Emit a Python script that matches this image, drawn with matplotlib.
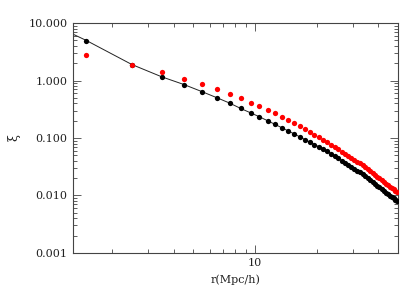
import numpy as np
import matplotlib
matplotlib.use("Agg")
import matplotlib.pyplot as plt
from matplotlib.ticker import LogLocator, NullFormatter, FixedLocator, FixedFormatter

# bin centres r (Mpc/h)
r = [1.5, 2.5, 3.5, 4.5, 5.5, 6.5, 7.5, 8.5, 9.5, 10.5,
     11.5, 12.5, 13.5, 14.5, 15.5, 16.5, 17.5, 18.5, 19.5, 20.5,
     21.5, 22.5, 23.5, 24.5, 25.5, 26.5, 27.5, 28.5, 29.5, 30.5,
     31.5, 32.5, 33.5, 34.5, 35.5, 36.5, 37.5, 38.5, 39.5, 40.5,
     41.5, 42.5, 43.5, 44.5, 45.5, 46.5, 47.5, 48.5, 49.5]

# black points
xi_black = [4.97, 1.88, 1.16, 0.85, 0.641, 0.503, 0.406, 0.327, 0.275, 0.234,
            0.199, 0.173, 0.150, 0.133, 0.118, 0.104, 0.0941, 0.0851, 0.0769, 0.0710,
            0.0641, 0.0591, 0.0535, 0.0483, 0.0446, 0.0403, 0.0372, 0.0343, 0.0316, 0.0292,
            0.0269, 0.0253, 0.0234, 0.0216, 0.0199, 0.0183, 0.0171, 0.0159, 0.0148, 0.0138,
            0.0129, 0.0120, 0.0112, 0.0105, 0.00984, 0.00929, 0.00885, 0.00844, 0.00801]

# red points
xi_red = [2.82, 1.89, 1.42, 1.08, 0.886, 0.724, 0.591, 0.503, 0.411, 0.364,
          0.310, 0.269, 0.234, 0.203, 0.180, 0.159, 0.144, 0.127, 0.115, 0.104,
          0.0941, 0.0851, 0.0769, 0.0695, 0.0641, 0.0580, 0.0535, 0.0493, 0.0455, 0.0420,
          0.0387, 0.0364, 0.0336, 0.0310, 0.0286, 0.0264, 0.0245, 0.0229, 0.0213, 0.0199,
          0.0185, 0.0173, 0.0161, 0.0151, 0.0142, 0.0134, 0.0127, 0.0121, 0.0115]

# model curve
r_line = [1.29, 1.5, 2.5, 3.5, 4.5, 5.5, 6.5, 7.5, 8.5, 10.5, 12.5, 15.5, 18.5,
          22.5, 26.5, 32.5, 38.5, 44.5, 49.5]
xi_line = [6.41, 4.97, 1.90, 1.16, 0.85, 0.641, 0.503, 0.406, 0.327, 0.234, 0.173,
           0.118, 0.0851, 0.0591, 0.0403, 0.0253, 0.0159, 0.0105, 0.00801]

plt.rcParams['font.family'] = ['DejaVu Serif']

fig = plt.figure(figsize=(4.2, 3.0), dpi=100)
ax = fig.add_axes([0.174, 0.157, 0.774, 0.766])

ax.plot(r_line, xi_line, '-', color='#222222', lw=0.7, zorder=2)
ax.plot(r, xi_black, 'o', color='black', ms=3.8, mec='none', zorder=3)
ax.plot(r, xi_red, 'o', color='#ff0000', ms=3.8, mec='none', zorder=4)

ax.set_xscale('log')
ax.set_yscale('log')
ax.set_xlim(1.29, 50)
ax.set_ylim(0.001, 10)

gray = '#444444'
ax.yaxis.set_major_locator(FixedLocator([0.001, 0.01, 0.1, 1, 10]))
ax.yaxis.set_major_formatter(FixedFormatter(['0.001', '0.010', '0.100', '1.000', '10.000']))
ax.yaxis.set_minor_locator(LogLocator(base=10, subs=np.arange(2, 10)))
ax.yaxis.set_minor_formatter(NullFormatter())
ax.xaxis.set_major_locator(FixedLocator([10]))
ax.xaxis.set_major_formatter(FixedFormatter(['10']))
ax.xaxis.set_minor_locator(LogLocator(base=10, subs=np.arange(2, 10)))
ax.xaxis.set_minor_formatter(NullFormatter())

ax.tick_params(which='both', direction='in', top=True, right=True,
               color=gray, labelsize=8, labelcolor='#222222', width=0.6)
ax.tick_params(which='major', length=6, pad=4)
ax.tick_params(which='minor', length=3)
for s in ax.spines.values():
    s.set_color(gray)
    s.set_linewidth(0.8)

ax.set_xlabel('r(Mpc/h)', fontsize=8, color='#222222', labelpad=4)
ax.set_ylabel('ξ', fontsize=9, color='#222222', labelpad=6)

fig.savefig('out.png', dpi=100)
